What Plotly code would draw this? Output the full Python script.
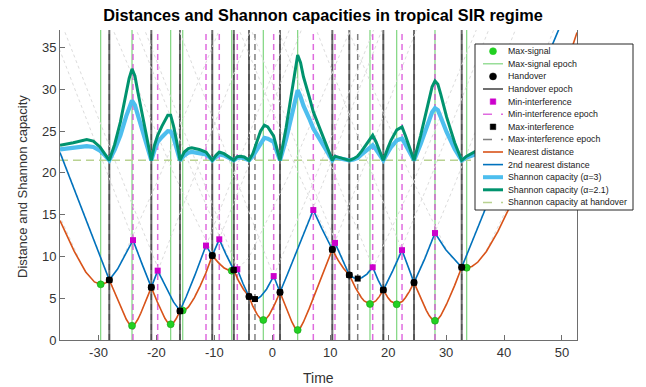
import plotly.graph_objects as go

# ---------------- data ----------------
x_range = [-36.64, 52.59]
y_range = [0, 37.1]
x_ticks = [-30, -20, -10, 0, 10, 20, 30, 40, 50]
x_tick_labels = ["-30", "-20", "-10", "0", "10", "20", "30", "40", "50"]
y_ticks = [0, 5, 10, 15, 20, 25, 30, 35]

near_t = [-36.64, -34.2, -32.2, -30.7, -29.62, -28.7, -28.13,
          -26.7, -25.7, -25.2, -24.7, -24.21, -23.7, -23.2, -22.7, -21.7, -20.88,
          -19.84, -19.04, -18.54, -18.04, -17.54, -17.04, -16.54, -15.93,
          -15.46, -14.96, -14.46, -13.46, -12.46, -11.46, -10.36,
          -9.31, -8.31, -7.51, -7.01, -6.64,
          -5.89, -4.99, -4.02,
          -3.39, -2.59, -2.05, -1.55, -1.05, -0.55, 0.45, 1.33,
          2.38, 3.38, 3.88, 4.38, 4.88, 5.38, 6.38, 8.38, 10.36,
          11.34, 12.34, 13.29,
          14.36, 15.36, 15.86, 16.86, 17.86, 18.46, 19.16,
          19.97, 20.47, 21.47, 22.47, 22.97, 23.67, 24.46,
          25.58, 26.58, 27.08, 27.58, 28.08, 28.58, 29.08, 30.08, 31.48, 32.69,
          33.55, 34.45, 35.45, 36.95, 38.95, 41.45, 44.45, 47.45, 50.45, 52.59]
near_d = [14.29, 10.63, 8.14, 6.95, 6.66, 6.86, 7.18,
          4.81, 3.2, 2.48, 1.93, 1.71, 1.93, 2.48, 3.2, 4.81, 6.3,
          4.55, 3.29, 2.6, 2.08, 1.88, 2.08, 2.6, 3.47,
          3.53, 3.64, 3.96, 5.04, 6.45, 8.02, 10.1,
          9.26, 8.61, 8.34, 8.29, 8.38,
          7.16, 6.08, 5.2,
          4.08, 3.03, 2.55, 2.39, 2.55, 2.99, 4.32, 5.71,
          3.79, 2.16, 1.5, 1.2, 1.5, 2.16, 3.79, 7.3, 10.83,
          9.56, 8.52, 7.78,
          6.23, 5.09, 4.67, 4.31, 4.67, 5.19, 5.98,
          5.05, 4.63, 4.27, 4.63, 5.05, 5.82, 6.87,
          5.06, 3.55, 2.93, 2.48, 2.31, 2.48, 2.93, 4.28, 6.54, 8.7,
          8.65, 8.8, 9.3, 10.6, 13.0, 16.6, 21.5, 26.8, 32.3, 36.8]

second_t = [-36.64, -32.2, -29.62, -28.13,
            -26.7, -25.2, -24.04,
            -22.54, -20.88,
            -19.78,
            -18.26, -17.06, -15.93,
            -14.84, -13.34, -11.44,
            -10.36,
            -9.15,
            -7.99, -6.64,
            -6.04,
            -5.04, -4.02,
            -3.49, -2.99, -2.49, -1.99, -0.99, 0.24,
            1.33,
            2.6, 4.6, 7.08,
            8.54, 10.36,
            10.82,
            11.96, 13.29,
            14.04, 14.74, 15.44, 16.34, 17.33,
            18.27, 19.16,
            20.76, 22.39,
            23.48, 24.46,
            26.27, 28.08,
            29.95, 32.69,
            34.48, 37.48, 41.48, 45.48, 48.98, 50.5]
second_d = [22.44, 14.5, 9.89, 7.18,
            8.49, 10.38, 11.95,
            9.2, 6.3,
            8.3,
            6.15, 4.56, 3.5,
            5.21, 7.79, 11.3,
            10.1,
            12.05,
            10.25, 8.38,
            8.47,
            6.73, 5.2,
            4.98, 4.9, 4.98, 5.22, 6.08, 7.65,
            5.71,
            7.84, 11.32, 15.55,
            13.36, 10.83,
            11.62,
            9.82, 7.78,
            7.46, 7.35, 7.46, 7.89, 8.7,
            7.17, 5.98,
            8.24, 10.75,
            8.6, 6.87,
            9.64, 12.8,
            10.8, 8.7,
            11.75, 16.9, 23.8, 30.6, 36.4, 38.9]

cap_t = [-36.64, -34.35, -32.03, -30.89, -29.74, -28.9, -28.13,
         -27.21, -26.21, -25.21, -24.71, -24.21, -23.71, -23.21, -22.21, -21.51, -20.88,
         -20.34, -19.78, -19.04, -18.54, -18.04, -17.54, -17.04, -16.54, -15.93,
         -15.19, -14.49, -13.9, -12.61, -11.44, -10.82, -10.36,
         -9.72, -9.15, -8.33, -7.64, -6.64,
         -6.04, -5.55, -4.85, -4.02,
         -3.36, -2.57, -2.03, -1.37, -0.78, 0.24, 0.81, 1.33,
         2.38, 3.38, 3.88, 4.38, 4.88, 5.38, 6.38, 7.08, 8.38, 9.58, 10.36,
         10.82, 12.0, 13.29,
         14.03, 14.73, 15.42, 15.92, 16.52, 17.33, 17.91, 18.51, 19.16,
         19.99, 20.49, 21.49, 22.39, 22.98, 23.67, 24.46,
         25.58, 26.58, 27.08, 27.58, 28.08, 28.58, 29.08, 30.08, 31.48, 32.69,
         33.55, 35.3, 37.5, 40.0]
cap_a21 = [23.3, 23.6, 24.0, 23.8, 23.1, 22.3, 21.5,
           23.4, 26.1, 29.6, 31.3, 32.45, 31.6, 29.7, 26.0, 23.7, 21.5,
           23.3, 24.5, 25.6, 26.3, 26.9, 26.9, 25.6, 23.9, 21.5,
           22.5, 22.9, 23.0, 22.8, 22.5, 22.0, 21.5,
           22.1, 22.5, 22.3, 22.0, 21.5,
           21.95, 22.0, 21.9, 21.5,
           22.3, 23.8, 25.0, 25.7, 25.5, 24.4, 22.9, 21.5,
           25.4, 29.7, 32.3, 34.1, 33.2, 31.5, 29.1, 27.3, 25.0, 22.8, 21.5,
           22.0, 21.8, 21.5,
           21.7, 22.0, 22.6, 23.1, 23.7, 24.5, 23.7, 22.6, 21.5,
           23.05, 23.9, 25.15, 25.5, 24.45, 23.1, 21.5,
           24.4, 27.4, 28.9, 30.3, 31.0, 30.6, 29.4, 26.7, 23.6, 21.5,
           22.0, 22.65, 23.2, 23.7]
cap_a3 = [22.8, 23.0, 23.2, 23.1, 22.65, 22.1, 21.5,
          22.75, 24.5, 26.8, 27.9, 28.65, 28.1, 26.9, 24.4, 22.95, 21.5,
          22.7, 23.7, 24.3, 24.7, 25.0, 24.95, 24.2, 23.0, 21.5,
          22.1, 22.4, 22.5, 22.4, 22.2, 21.85, 21.5,
          21.9, 22.2, 22.1, 21.85, 21.5,
          21.8, 21.85, 21.75, 21.5,
          22.0, 22.9, 23.6, 24.2, 24.1, 23.7, 22.5, 21.5,
          24.0, 26.9, 28.5, 29.9, 29.1, 28.05, 26.5, 25.3, 23.8, 22.35, 21.5,
          21.85, 21.7, 21.5,
          21.6, 21.8, 22.2, 22.5, 22.9, 23.3, 22.8, 22.2, 21.5,
          22.5, 23.07, 23.9, 24.1, 23.4, 22.55, 21.5,
          23.4, 25.4, 26.4, 27.25, 27.75, 27.5, 26.65, 24.9, 22.85, 21.5,
          21.85, 22.3, 22.6, 22.9]
handover_cap = 21.5

maxsig_t = [-29.62, -24.21, -17.54, -15.46, -7.01, -1.55, 4.38, 16.86, 21.47, 28.08, 33.55]
maxsig_d = [6.66, 1.71, 1.88, 3.53, 8.29, 2.39, 1.2, 4.31, 4.27, 2.31, 8.65]
handover_t = [-28.13, -20.88, -15.93, -10.36, -6.64, -4.02, 1.33, 10.36, 13.29, 19.16, 24.46, 32.69]
handover_d = [7.18, 6.3, 3.47, 10.1, 8.38, 5.2, 5.71, 10.83, 7.78, 5.98, 6.87, 8.7]
minint_t = [-24.04, -19.78, -11.44, -9.15, -6.04, 0.24, 7.08, 10.82, 17.33, 22.39, 28.08]
minint_d = [11.95, 8.3, 11.3, 12.05, 8.47, 7.65, 15.55, 11.62, 8.7, 10.75, 12.8]
maxint_t = [-28.13, -20.88, -15.93, -10.36, -6.64, -4.02, -2.99, 1.33, 10.36, 13.29, 14.74, 19.16, 24.46, 32.69]
maxint_d = [7.18, 6.3, 3.47, 10.1, 8.38, 5.2, 4.9, 5.71, 10.83, 7.78, 7.35, 5.98, 6.87, 8.7]

# distances to every station (faint dotted background curves)
ghost_t = [
    [-50.32, -39.62, -32.62, -30.62, -29.62, -28.62, -26.62, -19.62, -8.92],
    [-44.91, -34.21, -27.21, -25.21, -24.21, -23.21, -21.21, -14.21, -3.51],
    [-38.24, -27.54, -20.54, -18.54, -17.54, -16.54, -14.54, -7.54, 3.16],
    [-36.16, -25.46, -18.46, -16.46, -15.46, -14.46, -12.46, -5.46, 5.24],
    [-27.71, -17.01, -10.01, -8.01, -7.01, -6.01, -4.01, 2.99, 13.69],
    [-23.69, -12.99, -5.99, -3.99, -2.99, -1.99, 0.01, 7.01, 17.71],
    [-22.25, -11.55, -4.55, -2.55, -1.55, -0.55, 1.45, 8.45, 19.15],
    [-16.32, -5.62, 1.38, 3.38, 4.38, 5.38, 7.38, 14.38, 25.08],
    [-5.96, 4.74, 11.74, 13.74, 14.74, 15.74, 17.74, 24.74, 35.44],
    [-3.84, 6.86, 13.86, 15.86, 16.86, 17.86, 19.86, 26.86, 37.56],
    [0.77, 11.47, 18.47, 20.47, 21.47, 22.47, 24.47, 31.47, 42.17],
    [7.38, 18.08, 25.08, 27.08, 28.08, 29.08, 31.08, 38.08, 48.78],
    [12.85, 23.55, 30.55, 32.55, 33.55, 34.55, 36.55, 43.55, 54.25],
]
ghost_d = [
    [37.5, 19.3, 8.6, 6.9, 6.66, 6.9, 8.6, 19.3, 37.5],
    [37.5, 18.2, 5.69, 2.48, 1.71, 2.48, 5.69, 18.2, 37.5],
    [37.5, 18.2, 5.74, 2.6, 1.88, 2.6, 5.74, 18.2, 37.5],
    [37.5, 18.44, 6.47, 3.96, 3.53, 3.96, 6.47, 18.44, 37.5],
    [37.5, 19.9, 9.9, 8.48, 8.29, 8.48, 9.9, 19.9, 37.5],
    [37.5, 18.74, 7.3, 5.22, 4.9, 5.22, 7.3, 18.74, 37.5],
    [37.5, 18.26, 5.9, 2.99, 2.39, 2.99, 5.9, 18.26, 37.5],
    [37.5, 18.14, 5.56, 2.16, 1.2, 2.16, 5.56, 18.14, 37.5],
    [37.5, 19.54, 9.15, 7.57, 7.35, 7.57, 9.15, 19.54, 37.5],
    [37.5, 18.6, 6.9, 4.67, 4.31, 4.67, 6.9, 18.6, 37.5],
    [37.5, 18.6, 6.88, 4.63, 4.27, 4.63, 6.88, 18.6, 37.5],
    [37.5, 18.25, 5.88, 2.93, 2.31, 2.93, 5.88, 18.25, 37.5],
    [37.5, 20.1, 10.14, 8.84, 8.65, 8.84, 10.14, 20.1, 37.5],
]

legend_labels = ["Max-signal", "Max-signal epoch", "Handover", "Handover epoch",
                 "Min-interference", "Min-interference epoch", "Max-interference",
                 "Max-interference epoch", "Nearest distance", "2nd nearest distance",
                 "Shannon capacity (α=3)", "Shannon capacity (α=2.1)",
                 "Shannon capacity at handover"]

# ---------------- styles ----------------
FONT = "Liberation Sans, Arial, Helvetica, sans-serif"
C_ORANGE = "#D95319"
C_BLUE = "#0072BD"
C_LBLUE = "#4DBEEE"
C_GREEN = "#00936E"
C_HCAP = "#B9D291"
C_SIG = "#22D022"
C_SIGLINE = "rgba(40,185,40,0.6)"
C_HOLINE = "rgba(50,50,50,0.7)"
C_MAG = "#CC00CC"
C_MAGLINE = "rgba(215,70,215,0.8)"
C_MAXLINE = "rgba(60,60,60,0.65)"

fig = go.Figure()

for gt, gd in zip(ghost_t, ghost_d):
    fig.add_trace(go.Scatter(x=gt, y=gd, mode="lines", hoverinfo="skip",
                             line=dict(color="#DCDCDC", width=1, dash="dot")))

for t in maxsig_t:
    fig.add_shape(type="line", xref="x", yref="paper", x0=t, x1=t, y0=0, y1=1,
                  line=dict(color=C_SIGLINE, width=1.2), layer="below")
for t in handover_t:
    fig.add_shape(type="line", xref="x", yref="paper", x0=t, x1=t, y0=0, y1=1,
                  line=dict(color=C_HOLINE, width=2), layer="below")
for t in minint_t:
    fig.add_shape(type="line", xref="x", yref="paper", x0=t, x1=t, y0=0, y1=1,
                  line=dict(color=C_MAGLINE, width=1.5, dash="6px,4px"), layer="below")
for t in maxint_t:
    fig.add_shape(type="line", xref="x", yref="paper", x0=t, x1=t, y0=0, y1=1,
                  line=dict(color=C_MAXLINE, width=1.5, dash="6px,4px"), layer="below")

fig.add_trace(go.Scatter(x=x_range, y=[handover_cap, handover_cap], mode="lines",
                         line=dict(color=C_HCAP, width=1.5, dash="8px,5px")))
fig.add_trace(go.Scatter(x=near_t, y=near_d, mode="lines", line=dict(color=C_ORANGE, width=1.6)))
fig.add_trace(go.Scatter(x=second_t, y=second_d, mode="lines", line=dict(color=C_BLUE, width=1.6)))
fig.add_trace(go.Scatter(x=cap_t, y=cap_a3, mode="lines", line=dict(color=C_LBLUE, width=4.2)))
fig.add_trace(go.Scatter(x=cap_t, y=cap_a21, mode="lines", line=dict(color=C_GREEN, width=3)))

fig.add_trace(go.Scatter(x=maxsig_t, y=maxsig_d, mode="markers",
                         marker=dict(symbol="circle", size=7, color=C_SIG, line=dict(color="#15A015", width=0.6))))
fig.add_trace(go.Scatter(x=handover_t, y=handover_d, mode="markers",
                         marker=dict(symbol="circle", size=7, color="black")))
fig.add_trace(go.Scatter(x=minint_t, y=minint_d, mode="markers",
                         marker=dict(symbol="square", size=6, color=C_MAG)))
fig.add_trace(go.Scatter(x=maxint_t, y=maxint_d, mode="markers",
                         marker=dict(symbol="square", size=6, color="black")))

# ---------------- manual legend (paper coordinates) ----------------
L, T, W, H = 60, 30, 517, 310
def px(x):
    return (x - L) / W
def py(y):
    return (T + H - y) / H

fig.add_shape(type="rect", xref="paper", yref="paper", x0=px(475), x1=px(633),
              y0=py(210), y1=py(44), fillcolor="white", line=dict(color="#262626", width=1), layer="above")
styles = [
    ("marker", "circle", C_SIG), ("line", C_SIGLINE, 1.2, "solid"),
    ("marker", "circle", "black"), ("line", C_HOLINE, 2, "solid"),
    ("marker", "square", C_MAG), ("line", C_MAGLINE, 1.5, "dash"),
    ("marker", "square", "black"), ("line", C_MAXLINE, 1.5, "dash"),
    ("line", C_ORANGE, 1.6, "solid"), ("line", C_BLUE, 1.6, "solid"),
    ("line", C_LBLUE, 4, "solid"), ("line", C_GREEN, 3, "solid"),
    ("line", C_HCAP, 1.5, "dash"),
]
for i, (lab, st) in enumerate(zip(legend_labels, styles)):
    yy = py(51.2 + 12.6 * i)
    if st[0] == "line":
        fig.add_shape(type="line", xref="paper", yref="paper", x0=px(483), x1=px(503),
                      y0=yy, y1=yy, line=dict(color=st[1], width=st[2], dash=st[3]), layer="above")
    else:
        r = 3.5 if st[1] == "circle" else 2.8
        fig.add_shape(type="circle" if st[1] == "circle" else "rect", xref="paper", yref="paper",
                      xsizemode="pixel", ysizemode="pixel", xanchor=px(493), yanchor=yy,
                      x0=-r, x1=r, y0=-r, y1=r, fillcolor=st[2],
                      line=dict(color=st[2], width=0.5), layer="above")
    fig.add_annotation(text=lab, xref="paper", yref="paper", x=px(506), y=yy,
                       xanchor="left", yanchor="middle", showarrow=False,
                       font=dict(family=FONT, size=8.8, color="#1a1a1a"))

fig.add_annotation(text="Time", xref="paper", yref="paper", x=0.5, y=py(378),
                   xanchor="center", yanchor="middle", showarrow=False,
                   font=dict(family=FONT, size=14, color="#333333"))
fig.add_annotation(text="Distance and Shannon capacity", xref="paper", yref="paper",
                   x=px(22), y=py(187), textangle=-90, xanchor="center", yanchor="middle",
                   showarrow=False, font=dict(family=FONT, size=13, color="#333333"))

fig.update_traces(showlegend=False, hoverinfo="skip", selector=dict(type="scatter"))

fig.update_layout(
    width=646, height=387,
    margin=dict(l=60, r=69, t=30, b=47),
    paper_bgcolor="white", plot_bgcolor="white",
    showlegend=False,
    title=dict(text="<b>Distances and Shannon capacities in tropical SIR regime</b>",
               x=323 / 646, xref="container", xanchor="center", y=1 - 15 / 387, yref="container",
               yanchor="middle", font=dict(family=FONT, size=16.3, color="black")),
    xaxis=dict(range=x_range, tickvals=x_ticks, ticktext=x_tick_labels, ticks="inside",
               ticklen=5, tickcolor="#6E6E6E",
               showline=True, linecolor="#6E6E6E", linewidth=1, showgrid=False, zeroline=False,
               tickfont=dict(family=FONT, size=13, color="#333333")),
    yaxis=dict(range=y_range, tickvals=y_ticks, ticks="inside", ticklen=5, tickcolor="#6E6E6E",
               showline=True, mirror=True, linecolor="#6E6E6E", linewidth=1, showgrid=False,
               zeroline=False, tickfont=dict(family=FONT, size=13, color="#333333")),
)

fig.write_html("out.html", config={"displayModeBar": False},
               post_script="document.body.style.margin='0px';document.body.style.overflow='hidden';")
